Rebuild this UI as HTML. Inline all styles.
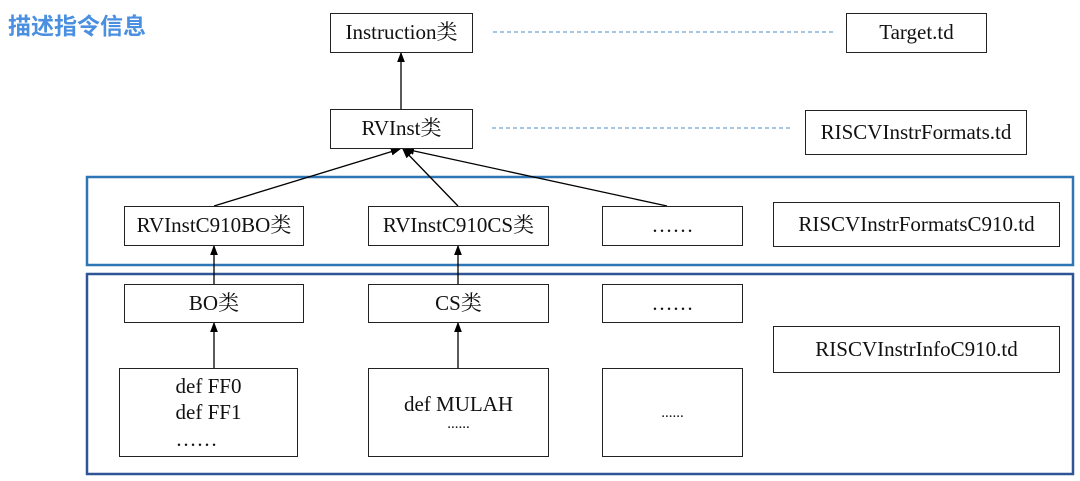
<!DOCTYPE html>
<html><head><meta charset="utf-8"><style>
html,body{margin:0;padding:0;background:#fff;width:1080px;height:481px;overflow:hidden;position:relative}
.b{position:absolute;border:1.5px solid #222;box-sizing:border-box;display:flex;align-items:center;justify-content:center;flex-direction:column;font-family:"Liberation Serif","Noto Serif CJK SC",serif;font-size:21px;color:#111;background:#fff;line-height:1.2}
.t{position:absolute;left:8px;top:7px;font-family:"Liberation Sans","Noto Sans CJK SC",sans-serif;font-weight:bold;font-size:23px;color:#4a8fe0}
svg{position:absolute;left:0;top:0}
</style></head><body>
<div class="t">描述指令信息</div>
<svg width="1080" height="481">
<defs><marker id="a" markerWidth="8" markerHeight="8" refX="7" refY="4" orient="auto"><path d="M0,1 L8,4 L0,7z" fill="#000"/></marker></defs>
<rect x="87" y="177" width="986" height="88" fill="none" stroke="#2e75b6" stroke-width="2.5"/>
<rect x="87" y="274" width="986" height="200" fill="none" stroke="#2f5597" stroke-width="2.5"/>
<g stroke="#000" stroke-width="1.3" fill="none" marker-end="url(#a)">
<line x1="401" y1="109" x2="401" y2="53"/>
<line x1="214" y1="206" x2="400" y2="149"/>
<line x1="458" y1="206" x2="403" y2="149"/>
<line x1="667" y1="206" x2="405" y2="149"/>
<line x1="214" y1="284" x2="214" y2="246"/>
<line x1="458" y1="284" x2="458" y2="246"/>
<line x1="214" y1="368" x2="214" y2="323"/>
<line x1="458" y1="368" x2="458" y2="323"/>
</g>
<g stroke="#4a8cc8" stroke-width="1" stroke-dasharray="4,3">
<line x1="493" y1="32" x2="833" y2="32"/>
<line x1="492" y1="128" x2="790" y2="128"/>
</g>
</svg>
<div class="b" style="left:330px;top:13px;width:143px;height:40px">Instruction类</div>
<div class="b" style="left:846px;top:13px;width:141px;height:40px">Target.td</div>
<div class="b" style="left:330px;top:109px;width:143px;height:40px">RVInst类</div>
<div class="b" style="left:805px;top:110px;width:222px;height:45px">RISCVInstrFormats.td</div>
<div class="b" style="left:124px;top:206px;width:180px;height:40px">RVInstC910BO类</div>
<div class="b" style="left:368px;top:206px;width:181px;height:40px">RVInstC910CS类</div>
<div class="b" style="left:602px;top:206px;width:141px;height:40px">……</div>
<div class="b" style="left:773px;top:202px;width:287px;height:45px">RISCVInstrFormatsC910.td</div>
<div class="b" style="left:124px;top:284px;width:180px;height:39px">BO类</div>
<div class="b" style="left:368px;top:284px;width:181px;height:39px">CS类</div>
<div class="b" style="left:602px;top:284px;width:141px;height:39px">……</div>
<div class="b" style="left:773px;top:326px;width:287px;height:47px">RISCVInstrInfoC910.td</div>
<div class="b" style="left:119px;top:368px;width:179px;height:89px;line-height:1.25">def FF0<br>def FF1<br>……</div>
<div class="b" style="left:368px;top:368px;width:181px;height:89px;line-height:1.1">def MULAH<br><span style="font-size:15px">......</span></div>
<div class="b" style="left:602px;top:368px;width:141px;height:89px"><span style="font-size:15px">......</span></div>
</body></html>
